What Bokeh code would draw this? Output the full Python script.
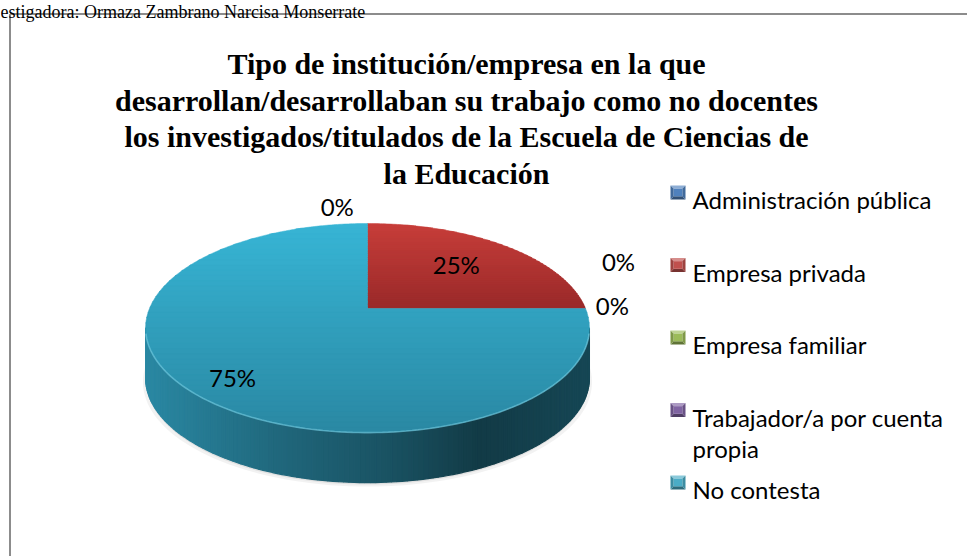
import numpy as np
from bokeh.plotting import figure
from bokeh.models import Range1d
from bokeh.embed import file_html
from bokeh.resources import INLINE
from bokeh.core.properties import value

# ---------------- data ----------------
categories = ["Administración pública", "Empresa privada", "Empresa familiar",
              "Trabajador/a por cuenta\npropia", "No contesta"]
percent = [0, 25, 0, 0, 75]
legend_colors = ["#4F81BD", "#C0504D", "#9BBB59", "#8064A2", "#4BACC6"]
top_light = ["#5a93d6", "#c83e3a", "#a6cc5e", "#8c6cb4", "#37b5d5"]
top_dark = ["#3c6aa3", "#9a2a2a", "#7d9a45", "#644c84", "#2a88a3"]
title_lines = ["Tipo de institución/empresa en la que",
               "desarrollan/desarrollaban su trabajo como no docentes",
               "los investigados/titulados de la Escuela de Ciencias de",
               "la Educación"]
caption = "estigadora: Ormaza Zambrano Narcisa Monserrate"

# label placement (angle nudge in degrees, radius as fraction of pie radius)
label_dtheta = [-7.8, -2.0, -22.0, -1.5, -3.0]
label_r = [1.26, 0.65, 1.36, 1.13, 0.82]

# ---------------- geometry / style ----------------
W, H = 967, 556
CX, CY = 367.0, 308.0
A, B, K = 218.0, 100.9, 0.187
DEPTH = 50.0


def proj(theta_deg, r=1.0):
    th = np.radians(theta_deg)
    u = r * np.sin(th)
    v = -r * np.cos(th)
    w = 1.0 - K * v
    return CX + A * u / w, CY + B * v / w


def hex2rgb(h):
    h = h.lstrip("#")
    return np.array([int(h[i:i + 2], 16) for i in (0, 2, 4)], dtype=float)


def rgb2hex(c):
    c = np.clip(np.round(c), 0, 255).astype(int)
    return "#%02x%02x%02x" % tuple(c)


def mix(c1, c2, t):
    return rgb2hex(hex2rgb(c1) * (1 - t) + hex2rgb(c2) * t)


def scale(c, f):
    return rgb2hex(hex2rgb(c) * f)


def lighten(c, f):
    a = hex2rgb(c)
    return rgb2hex(a + (255 - a) * f)


def clip_y(pts, c, keep_greater):
    out = []
    n = len(pts)
    for i in range(n):
        P = pts[i]
        Q = pts[(i + 1) % n]
        pin = (P[1] >= c) if keep_greater else (P[1] <= c)
        qin = (Q[1] >= c) if keep_greater else (Q[1] <= c)
        if pin:
            out.append(P)
        if pin != qin:
            t = (c - P[1]) / (Q[1] - P[1])
            out.append((P[0] + t * (Q[0] - P[0]), c))
    return out


p = figure(width=W, height=H, x_range=Range1d(0, W), y_range=Range1d(H, 0),
           output_backend="svg", toolbar_location=None, min_border=0,
           x_axis_location=None, y_axis_location=None)
p.grid.visible = False
p.outline_line_color = None
p.background_fill_color = "white"
p.border_fill_color = "white"

# chart frame (only top and left edges visible in the picture)
p.multi_line(xs=[[9.5, 9.5], [9.5, 990]], ys=[[600, 13.5], [13.5, 13.5]],
             line_color="#8c8c8c", line_width=2)

# caption at the very top of the page
p.text(x=[0], y=[11.8], text=[caption], text_font=value("Liberation Serif"),
       text_font_size="18px", text_color="black", text_baseline="alphabetic",
       text_align="left")

# ---------------- pie ----------------
total = float(sum(percent))
cum = np.concatenate([[0.0], np.cumsum(percent)]) / total * 360.0
starts, ends = cum[:-1], cum[1:]

# soft shadow
th_all = np.linspace(0, 360, 181)
sx, sy = proj(th_all)
p.patch(x=CX + (sx - CX) * 1.012, y=sy + DEPTH + 4, fill_color="black",
        fill_alpha=0.05, line_color=None)
p.patch(x=sx, y=sy + DEPTH + 2, fill_color="black", fill_alpha=0.07,
        line_color=None)

# side wall (front half)
th_vis0 = np.degrees(np.arccos(-K))
th_vis1 = 360 - th_vis0
xmin_pie, _ = proj(th_vis1)
xmax_pie, _ = proj(th_vis0)
side_stops_t = [0.0, 0.3, 0.55, 0.75, 1.0]
side_stops_f = [1.0, 0.76, 0.60, 0.43, 0.52]
side_xs, side_ys, side_cols = [], [], []
th_side = np.linspace(th_vis0, th_vis1, 140)
for i in range(len(th_side) - 1):
    t0, t1 = th_side[i], th_side[i + 1]
    mid = 0.5 * (t0 + t1)
    idx = [j for j in range(len(percent)) if starts[j] <= mid % 360 <= ends[j] and percent[j] > 0][0]
    x0, y0 = proj(t0)
    x1, y1 = proj(t1)
    xm = 0.5 * (x0 + x1)
    tt = (xm - xmin_pie) / (xmax_pie - xmin_pie)
    f = np.interp(tt, side_stops_t, side_stops_f)
    col = scale(top_dark[idx], f)
    side_xs.append([x0, x1, x1, x0])
    side_ys.append([y0, y1, y1 + DEPTH, y0 + DEPTH])
    side_cols.append(col)
p.patches(xs=side_xs, ys=side_ys, fill_color=side_cols, line_color=side_cols,
          line_width=1.2)

# top surface with vertical gradient per slice
top_xs, top_ys, top_cols = [], [], []
for j, val in enumerate(percent):
    if val <= 0:
        continue
    span = ends[j] - starts[j]
    ths = np.linspace(starts[j], ends[j], max(3, int(span * 1.5)))
    rx, ry = proj(ths)
    poly = [(CX, CY)] + list(zip(rx, ry))
    ymin = min(q[1] for q in poly)
    ymax = max(q[1] for q in poly)
    nb = 40
    edges = np.linspace(ymin, ymax, nb + 1)
    for b in range(nb):
        e0, e1 = edges[b] - 0.4, edges[b + 1] + 0.4
        part = clip_y(poly, e0, True)
        if len(part) < 3:
            continue
        part = clip_y(part, e1, False)
        if len(part) < 3:
            continue
        tt = (b + 0.5) / nb
        col = mix(top_light[j], top_dark[j], tt)
        top_xs.append([q[0] for q in part])
        top_ys.append([q[1] for q in part])
        top_cols.append(col)
p.patches(xs=top_xs, ys=top_ys, fill_color=top_cols, line_color=top_cols,
          line_width=0.5)

# front rim highlight
th_rim = np.linspace(th_vis0 + 3, th_vis1 - 3, 120)
hx, hy = proj(th_rim)
p.line(x=hx, y=hy, line_color="#7fd6ea", line_width=1.6, line_alpha=0.55)

# percentage labels
lab_x, lab_y, lab_t = [], [], []
for j, val in enumerate(percent):
    mid = 0.5 * (starts[j] + ends[j]) + label_dtheta[j]
    lx, ly = proj(mid, label_r[j])
    lab_x.append(lx)
    lab_y.append(ly)
    lab_t.append(f"{val}%")
p.text(x=lab_x, y=lab_y, text=lab_t, text_font=value("Lato"),
       text_font_size="24px", text_color="black", text_align="center",
       text_baseline="middle")

# ---------------- title ----------------
title_x = 466
title_base = 63.0
title_step = 36.6
p.text(x=[title_x] * len(title_lines),
       y=[title_base + title_step * i for i in range(len(title_lines))],
       text=title_lines, text_font=value("Liberation Serif"),
       text_font_style="bold", text_font_size="30px", text_color="black",
       text_align="center", text_baseline="alphabetic")

# ---------------- legend ----------------
leg_text_x = 692
leg_start = 199.0
leg_step = 72.5
leg_line = 31.0
mk_cx, mk_hw, mk_hh, bev = 677.5, 7.5, 7.0, 3.2
mk_xs, mk_ys, mk_cols = [], [], []
lt_x, lt_y, lt_t = [], [], []
for i, cat in enumerate(categories):
    base_y = leg_start + leg_step * i
    for k, line in enumerate(cat.split("\n")):
        lt_x.append(leg_text_x)
        lt_y.append(base_y + leg_line * k)
        lt_t.append(line)
    cy = base_y - 7.0
    x0, x1 = mk_cx - mk_hw, mk_cx + mk_hw
    y0, y1 = cy - mk_hh, cy + mk_hh
    ix0, ix1, iy0, iy1 = x0 + bev, x1 - bev, y0 + bev, y1 - bev
    c = legend_colors[i]
    mk_xs += [[x0, x1, ix1, ix0], [x0, x1, ix1, ix0], [x0, ix0, ix0, x0],
              [x1, ix1, ix1, x1], [ix0, ix1, ix1, ix0]]
    mk_ys += [[y0, y0, iy0, iy0], [y1, y1, iy1, iy1], [y0, iy0, iy1, y1],
              [y0, iy0, iy1, y1], [iy0, iy0, iy1, iy1]]
    mk_cols += [lighten(c, 0.35), scale(c, 0.62), scale(c, 0.82),
                scale(c, 0.82), c]
p.patches(xs=mk_xs, ys=mk_ys, fill_color=mk_cols, line_color=None)
p.text(x=lt_x, y=lt_y, text=lt_t, text_font=value("Lato"),
       text_font_size="24px", text_color="black", text_align="left",
       text_baseline="alphabetic")

open("out.html", "w").write(file_html(p, INLINE))
